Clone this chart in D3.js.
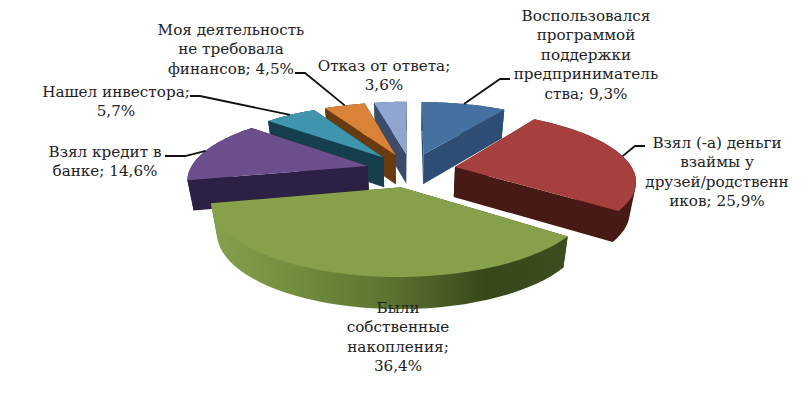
<!DOCTYPE html>
<html>
<head>
<meta charset="utf-8">
<script src="https://cdn.jsdelivr.net/npm/d3@7"></script>
<style>
  html, body { margin: 0; padding: 0; background: #fff; }
  svg { display: block; }
  text { font-family: "DejaVu Serif", serif; font-size: 15.2px; fill: #222; text-anchor: middle; }
</style>
</head>
<body>
<div id="content"></div>
<script>
var categories = ["Воспользовался программой поддержки предпринимательства", "Взял (-а) деньги взаймы у друзей/родственников", "Были собственные накопления", "Взял кредит в банке", "Нашел инвестора", "Моя деятельность не требовала финансов", "Отказ от ответа"];
var values = [9.3, 25.9, 36.4, 14.6, 5.7, 4.5, 3.6];
var valueLabels = ["9,3%", "25,9%", "36,4%", "14,6%", "5,7%", "4,5%", "3,6%"];

var topColors = ["#46709f", "#a5403e", "#86a14a", "#6b4f8c", "#3f94ae", "#da8238", "#8ea6d0"];
var wallColors = ["#2d4d74", "#471a15", "#3b4a1f", "#2c2044", "#153f4c", "#6a3a10", "#3b4c6a"];

// wrapped label lines, as they break in the picture
var labelLines = [
    ["Воспользовался", "программой", "поддержки", "предприниматель", "ства; 9,3%"],
    ["Взял (-а) деньги", "взаймы у", "друзей/родственн", "иков; 25,9%"],
    ["Были", "собственные", "накопления;", "36,4%"],
    ["Взял кредит в", "банке; 14,6%"],
    ["Нашел инвестора;", "5,7%"],
    ["Моя деятельность", "не требовала", "финансов; 4,5%"],
    ["Отказ от ответа;", "3,6%"]
];
var labelX = [586, 717, 398, 105, 116, 231, 384];
var labelY = [21, 148, 313, 157, 97, 35, 71];
// leader elbows, null when the label has no line
var leaders = [
    [[510, 79], [500, 79]],
    [[645, 146], [635, 146]],
    null,
    [[165, 156], [185, 156]],
    [[190, 96], [200, 96]],
    [[295, 73], [305, 73]],
    null
];

var w = 811, h = 397;
var cx = 411, cy = 170, radius = 178, explode = 45;
var persp = 1000, tilt = 375, depth = 30;

var svg = d3.select("#content").append("svg")
    .attr("width", w)
    .attr("height", h);

var defs = svg.append("defs");
var grad = defs.append("linearGradient")
    .attr("id", "greenWall")
    .attr("gradientUnits", "userSpaceOnUse")
    .attr("x1", 212).attr("x2", 565).attr("y1", 0).attr("y2", 0);
[[0, "#86a14c"], [0.25, "#708c3d"], [0.5, "#5c7431"], [0.78, "#374719"], [1, "#3d4d20"]].forEach(function(s) {
    grad.append("stop").attr("offset", s[0]).attr("stop-color", s[1]);
});

var pie = d3.pie().sort(null).value(function(d) { return d; });
var arcs = pie(values);

// ground plane (u right, v away from viewer) to the screen
function project(u, v) {
    var s = persp / (persp + v);
    return [cx + u * s, cy + tilt * (s - 1)];
}

function lower(p) {
    return [cx + (p[0] - cx) * 0.972, p[1] + depth + (p[1] - cy) * 0.02];
}

function slicePoints(a) {
    var mid = (a.startAngle + a.endAngle) / 2;
    var ox = explode * Math.sin(mid), oy = explode * Math.cos(mid);
    var rim = d3.range(0, 41).map(function(i) {
        var t = a.startAngle + (a.endAngle - a.startAngle) * i / 40;
        return project(ox + radius * Math.sin(t), oy + radius * Math.cos(t));
    });
    return {apex: project(ox, oy), rim: rim,
            tip: project(ox + radius * Math.sin(mid), oy + radius * Math.cos(mid))};
}

var line = d3.line();
var order = [6, 5, 4, 0, 3, 1, 2];
var slices = svg.append("g");

order.forEach(function(i) {
    var p = slicePoints(arcs[i]);
    var g = slices.append("g").attr("class", "slice");
    var rim = p.rim;
    var apexLow = lower(p.apex);

    g.append("path")
        .attr("d", line([p.apex, rim[0], lower(rim[0]), apexLow]) + "Z")
        .attr("fill", wallColors[i]);
    g.append("path")
        .attr("d", line([p.apex, rim[40], lower(rim[40]), apexLow]) + "Z")
        .attr("fill", wallColors[i]);
    // slices are convex, so the hull of both rims is the outer wall
    g.append("path")
        .attr("d", line(d3.polygonHull(rim.concat(rim.map(lower)))) + "Z")
        .attr("fill", i === 2 ? "url(#greenWall)" : wallColors[i]);
    g.append("path")
        .attr("d", line([p.apex].concat(rim)) + "Z")
        .attr("fill", topColors[i]);
});

// leader lines run from the elbow to the rim at the middle of the slice
leaders.forEach(function(l, i) {
    if (!l) return;
    var p = slicePoints(arcs[i]);
    svg.append("path")
        .attr("d", line(l.concat([p.tip])))
        .attr("fill", "none")
        .attr("stroke", "#111")
        .attr("stroke-width", 1.8);
});

labelLines.forEach(function(lines, i) {
    var t = svg.append("text").attr("aria-label", categories[i] + "; " + valueLabels[i]);
    lines.forEach(function(s, j) {
        t.append("tspan")
            .attr("x", labelX[i])
            .attr("y", labelY[i] + j * 19.4)
            .text(s);
    });
});
</script>
</body>
</html>
